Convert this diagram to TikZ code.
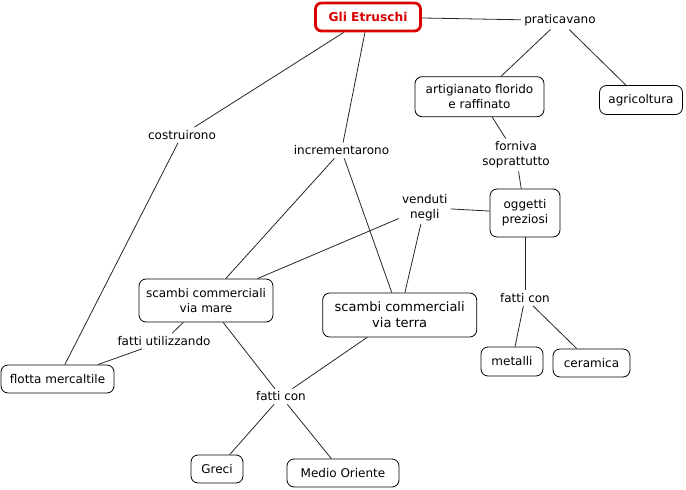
\documentclass[tikz,border=0pt]{standalone}
\usepackage{fontspec}
\setmainfont{DejaVu Sans}
\begin{document}
\begin{tikzpicture}[x=1pt,y=-1pt,
  every node/.style={font=\fontsize{12}{15}\selectfont, align=center},
  box/.style 2 args={draw=black, line width=0.8pt, rounded corners=7pt, inner sep=0pt, minimum width=#1, minimum height=#2, fill=white},
  lab/.style={inner sep=3pt},
  root/.style={draw=red!85!black, line width=2.8pt, rounded corners=6pt, inner sep=0pt, minimum width=105pt, minimum height=28pt, text=red!85!black, font=\fontsize{12.2}{14}\selectfont\bfseries},
  conn/.style={draw=black!85, line width=0.8pt}]
\useasboundingbox (0,0) rectangle (686,490);
\node[root] (et) at (368,17) {Gli Etruschi};
\node[lab] (prat) at (560,20.5) {praticavano};
\node[box={129pt}{40pt}] (art) at (479.5,96.7) {artigianato florido\\e raffinato};
\node[box={83pt}{29pt}] (agr) at (641,100) {agricoltura};
\node[lab] (cost) at (182,135) {costruirono};
\node[lab] (incr) at (341.5,150.5) {incrementarono};
\node[lab] (forn) at (516,155) {forniva\\soprattutto};
\node[lab] (vend) at (424.7,207.5) {venduti\\negli};
\node[box={70pt}{48pt}] (ogg) at (525,213) {oggetti\\preziosi};
\node[box={134pt}{43pt}] (mare) at (206,300.5) {scambi commerciali\\via mare};
\node[box={154pt}{44pt}, font=\fontsize{13}{16}\selectfont] (terra) at (399.7,315) {scambi commerciali\\via terra};
\node[lab] (fcr) at (525,298) {fatti con};
\node[lab] (futil) at (164,341) {fatti utilizzando};
\node[box={113pt}{28pt}] (flotta) at (57.5,379) {flotta mercaltile};
\node[box={62pt}{29pt}] (met) at (512,361.5) {metalli};
\node[box={77pt}{28pt}] (cer) at (591.5,363) {ceramica};
\node[lab] (fcb) at (281,396.5) {fatti con};
\node[box={52pt}{28pt}] (gre) at (217,469) {Greci};
\node[box={112pt}{28pt}] (medio) at (343,473) {Medio Oriente};
\path[conn] (et) -- (prat);
\path[conn] (prat) -- (art);
\path[conn] (prat) -- (agr);
\path[conn] (art) -- (forn);
\path[conn] (forn) -- (ogg);
\path[conn] (ogg) -- (vend);
\path[conn] (vend) -- (mare);
\path[conn] (vend) -- (terra);
\path[conn] (et) -- (cost);
\path[conn] (cost) -- (flotta);
\path[conn] (et) -- (incr);
\path[conn] (incr) -- (mare);
\path[conn] (incr) -- (terra);
\path[conn] (ogg) -- (fcr);
\path[conn] (fcr) -- (met);
\path[conn] (fcr) -- (cer);
\path[conn] (mare) -- (futil);
\path[conn] (futil) -- (flotta);
\path[conn] (mare) -- (fcb);
\path[conn] (terra) -- (fcb);
\path[conn] (fcb) -- (gre);
\path[conn] (fcb) -- (medio);
\end{tikzpicture}
\end{document}
